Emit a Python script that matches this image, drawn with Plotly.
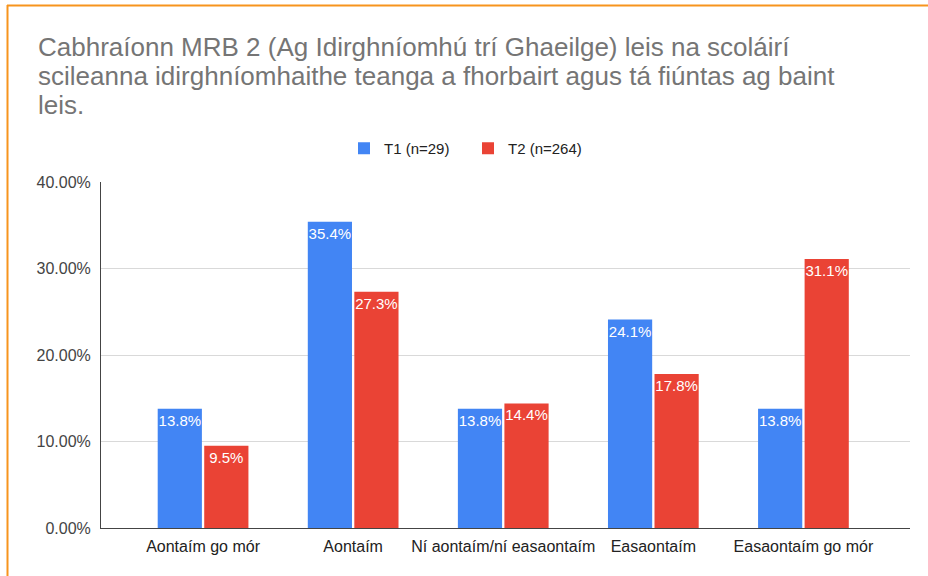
import plotly.graph_objects as go

categories = ["Aontaím go mór", "Aontaím", "Ní aontaím/ní easaontaím", "Easaontaím", "Easaontaím go mór"]
t1_values = [0.138, 0.354, 0.138, 0.241, 0.138]
t2_values = [0.095, 0.273, 0.144, 0.178, 0.311]
series_names = ["T1 (n=29)", "T2 (n=264)"]
y_ticks = [0, 0.1, 0.2, 0.3, 0.4]
title_lines = [
    "Cabhraíonn MRB 2 (Ag Idirghníomhú trí Ghaeilge) leis na scoláirí",
    "scileanna idirghníomhaithe teanga a fhorbairt agus tá fiúntas ag baint",
    "leis.",
]

W, H = 928, 576
L, R, T, B = 101, 910, 182, 528
FONT = "Liberation Sans, Arial, sans-serif"

def px(x):
    return (x - L) / (R - L)

def py(y):
    return (B - y) / (B - T)

fig = go.Figure()
for name, vals, color in [(series_names[0], t1_values, "#4285F4"), (series_names[1], t2_values, "#EA4335")]:
    fig.add_trace(go.Bar(
        x=categories, y=vals, name=name, marker=dict(color=color, line=dict(width=0)),
        texttemplate="%{y:.1%}", textposition="inside", insidetextanchor="end", textangle=0,
        textfont=dict(color="white", size=15, family=FONT), constraintext="none",
        cliponaxis=False,
    ))

annotations = []
for line, yc in zip(title_lines, [47, 76, 105]):
    annotations.append(dict(text=line, xref="paper", yref="paper", x=px(36), y=py(yc),
                            xanchor="left", yanchor="middle", showarrow=False,
                            font=dict(size=26, color="#757575", family=FONT)))

shapes = [
    dict(type="line", xref="paper", yref="paper", x0=px(7), x1=px(928), y0=py(5.5), y1=py(5.5),
         line=dict(color="#F7941D", width=2)),
    dict(type="line", xref="paper", yref="paper", x0=px(7.5), x1=px(7.5), y0=py(5), y1=py(576),
         line=dict(color="#F7941D", width=2)),
]

fig.update_layout(
    width=W, height=H,
    margin=dict(l=L, r=W - R, t=T, b=H - B, pad=0),
    paper_bgcolor="white", plot_bgcolor="white",
    font=dict(family=FONT, color="#222222"),
    barmode="group", bargap=0.38, bargroupgap=0.05,
    showlegend=True,
    legend=dict(orientation="h", x=px(344), y=py(132), xanchor="left", yanchor="top",
                entrywidth=79, entrywidthmode="pixels",
                font=dict(size=15, color="#222222", family=FONT), bgcolor="rgba(0,0,0,0)"),
    annotations=annotations, shapes=shapes,
)
fig.update_xaxes(range=[-0.68, 4.71], showline=True, linecolor="#444444", linewidth=1,
                 showgrid=False, ticks="", ticklabelstandoff=4,
                 tickfont=dict(size=16, color="#222222", family=FONT))
fig.update_yaxes(range=[0, 0.4], tickvals=y_ticks, tickformat=".2%", showline=True,
                 linecolor="#444444", linewidth=1, showgrid=True, gridcolor="#d9d9d9",
                 zeroline=False, ticks="", ticklabelstandoff=6,
                 tickfont=dict(size=16, color="#444444", family=FONT))

fig.write_html("out.html", config={"displayModeBar": False},
               post_script="document.body.style.margin='0';")
